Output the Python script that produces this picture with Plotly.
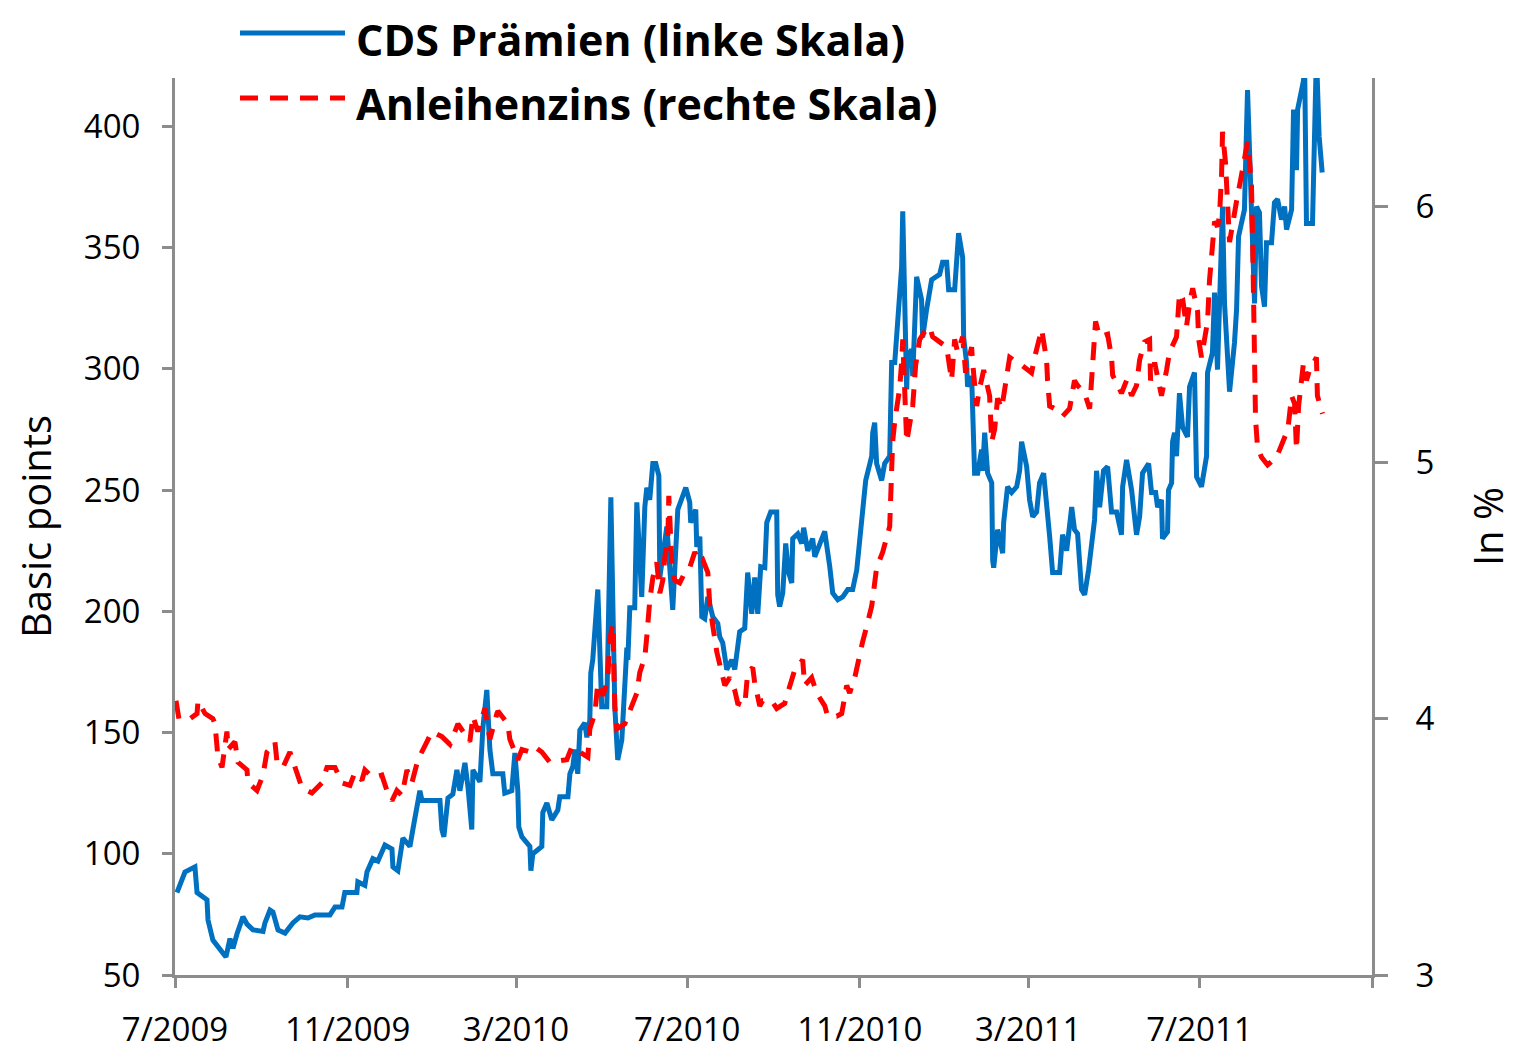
import pandas as pd
import plotly.graph_objects as go

# ---- data (days since 1 Jul 2009, value) ----
START = "2009-07-01"

cds_days = [1.4, 3.6, 7.1, 14.2, 15.7, 22.8, 23.5, 27, 32, 36.3, 39.2, 41.3, 44.2, 48.4, 51.3, 55.6,
            62.7, 64.1, 67.7, 69.8, 73.4, 78.4, 84, 89, 94.7, 99.7, 110.4, 114, 119, 121, 129.6, 130.3,
            135.3, 136.8, 141, 144.6, 149.6, 154.6, 155.3, 158.8, 162.4, 167.4, 169.5, 174.5, 176,
            188.8, 190.2, 191.6, 194.5, 198, 200.9, 203, 206.6, 208.7, 211.5, 212.3, 217.3, 219.4,
            222.2, 224.4, 226.5, 233.6, 235, 240, 242.2, 244.3, 245, 247.2, 252.9, 253.6, 255, 261.4,
            262.1, 265, 268.5, 272.8, 274.2, 280, 281.4, 283.5, 285, 287, 288.5, 292, 293.5, 295.6,
            296.3, 297.7, 301.3, 304.1, 307.7, 310.6, 313.4, 315.5, 318.4, 322, 322.7, 324.1, 327.6,
            329.1, 332.6, 334.8, 336.2, 338.3, 340.5, 342.6, 344.8, 345.5, 350.5, 354.7, 358.3, 361.1,
            364, 366.8, 367.5, 371.1, 371.8, 374, 375.4, 377.5, 379.7, 383.2, 386.8, 388.2, 390.3,
            393.2, 396.7, 398.9, 400.3, 402.4, 406, 407.4, 408.1, 411, 413.1, 415.3, 417.4, 420.3,
            421.7, 424.5, 428.8, 429.5, 430.9, 433.1, 435.2, 437.3, 439.5, 440.2, 443.8, 446.6, 448,
            450.9, 454.4, 455.9, 459.4, 463, 466.6, 468.7, 472.3, 475.8, 479.4, 482.9, 485.8, 487.9,
            490, 492.2, 496.5, 497.2, 498.6, 500, 503.6, 505.7, 509.3, 510.7, 512.9, 515, 517.8, 518.6,
            521.4, 522.1, 525, 525.7, 528.5, 532, 532.8, 535.6, 539.2, 544.9, 547, 549.9, 551.3, 555.6,
            556.3, 558.4, 561.3, 562, 564.1, 564.8, 567.7, 568.4, 569.8, 572, 574.8, 575.5, 577, 579.1,
            582, 582.7, 583.4, 586.2, 589.8, 590.5, 593.3, 596.2, 599.8, 601.9, 603.3, 606.9, 609,
            611.2, 614, 616.1, 619, 623.3, 625.4, 630.4, 632.5, 635.4, 639, 641, 643.2, 646, 648.2,
            651, 653.2, 655.3, 656.7, 658.9, 661.7, 664.6, 667.4, 671, 674.5, 675.3, 678.1, 681.7,
            685.2, 687.4, 689.5, 693.8, 695.9, 698.8, 700.2, 703, 703.7, 707.3, 708, 710.2, 710.9,
            712.3, 713.7, 715.8, 718, 721.5, 723, 726.5, 728, 731.5, 735.1, 735.8, 739.3, 740.8, 742.9,
            745.8, 746.5, 747.9, 751.5, 755, 756.5, 757.9, 762.1, 764.3, 767.1, 769.3, 770.7, 772.8,
            774.3, 776.4, 777.8, 781.4, 783.5, 785.7, 788.5, 790.7, 792.1, 795.7, 797.1, 799.2, 800,
            804.2, 804.9, 806.3, 810.6, 813.4, 815.3, 817.5]
cds_bp = [84, 87, 92.5, 94.6, 84, 81, 72.7, 64.4, 60.3, 57.4, 65, 61, 67, 74, 71, 68.6,
          68, 71.5, 76.8, 76, 68.6, 67.3, 71.5, 74, 73.5, 74.8, 74.8, 78, 78, 84, 84, 88.4,
          87, 92.5, 98, 97, 103.6, 102, 94.6, 93, 106.5, 103, 110, 126, 122,
          122, 110, 107, 123, 124.6, 134.6, 126, 137.5, 128, 110, 134.6, 129.7, 152,
          167.6, 143, 133, 133, 125, 126, 141.6, 126, 111, 107, 103, 93, 100, 103,
          117, 121, 114, 118, 123.5, 123.5, 133, 136, 143, 133, 151, 154, 148, 155,
          174.6, 180, 209, 160.6, 160.6, 247, 160.6, 138.7, 147, 185, 180, 201.5, 201.5,
          245, 206, 243, 251, 246, 261, 261, 256, 214, 235, 200.6, 242, 246,
          251, 245, 236.6, 242, 226.6, 230.8, 197.8, 197, 206, 197.8, 195, 189.5, 187,
          176, 180, 176, 184, 191.6, 193, 207.6, 216, 199, 214, 199, 218.4, 218,
          236.6, 241, 241, 206.8, 202, 207.6, 228, 216, 211.7, 230, 232, 228, 234.5,
          225, 230, 222.5, 228, 233, 218.4, 207.6, 204.8, 206, 209, 209, 217, 229.5,
          242, 254, 264, 273.7, 277.8, 261, 254, 261, 264, 302.6, 302.6, 323, 342, 365,
          291.5, 305, 308, 297, 338, 328.6, 313, 324.5, 336.8, 339, 344, 344, 332.7, 332.7,
          339.7, 356, 346, 313, 302.6, 292.7, 297, 280, 257, 257, 266.7, 258, 273.7, 257,
          253, 221, 218, 233.7, 224, 236.6, 251.4, 249, 251.4, 258, 270, 259.7, 246,
          239, 241, 253, 257, 230.8, 216, 216, 231.6, 225, 243, 233.7, 232, 209, 206.8,
          217, 229.5, 237.8, 258, 243, 258, 259.7, 241, 241, 231.6, 251.4, 262.5, 250,
          231.6, 239, 257, 261, 249, 249, 243, 246, 230, 232.8, 250, 253, 270,
          273.7, 264, 290, 276, 272, 292.7, 298.5, 255.5, 251.4, 264, 298.5, 306.7, 331.5, 299.7,
          348, 367, 327, 290.6, 310.8, 324.5, 354.6, 365.7, 415, 368.6, 327, 367, 364.5,
          334, 325.7, 352, 352, 368.6, 370, 361.6, 367, 357.5, 365.7, 407, 382, 407,
          419, 430, 360, 360, 430, 396, 381]

bond_days = [0.7, 2.8, 10.7, 15.7, 16.4, 21.4, 27, 28.5, 30.6, 33.5, 37, 37.8, 42.7, 44.9, 51.3, 52,
             58.4, 62.7, 65.5, 71.2, 72.7, 76.9, 81.9, 86.9, 90.5, 97.6, 104.7, 108.3, 114, 119, 124.7,
             128.2, 133.2, 135.3, 141, 147.4, 151, 154.6, 158.1, 161.7, 165.3, 168.8, 173.1, 179.5,
             183.1, 190.2, 195.9, 201.6, 205.1, 210.1, 212.3, 215.8, 220.8, 224.4, 229.4, 230.1, 237.2,
             238.6, 244.3, 247.2, 252.9, 256.4, 261.4, 267.1, 279.2, 282.8, 288.5, 294.2, 295.6, 299.2,
             301.3, 304.9, 308.4, 309.8, 312, 312.7, 313.4, 314.8, 320.5, 325.5, 329.1, 331.2, 334.8,
             336.2, 336.9, 338.3, 340.5, 343.3, 345.5, 347.6, 349, 351.2, 351.9, 352.6, 354, 356.2,
             359.7, 363.3, 366.8, 370.4, 374, 376.1, 379.7, 381.1, 383.2, 386.1, 389.6, 391.8, 395.3,
             398.9, 401, 406, 408.1, 411.7, 413.1, 416.7, 418.8, 425.2, 428.8, 434.5, 436.6, 441.6,
             447.3, 448.7, 453.7, 457.3, 463, 465.1, 471.5, 475.1, 478.7, 480.8, 484.4, 486.5, 490,
             492.9, 496.5, 500, 504.3, 509.3, 510.7, 511.4, 512.9, 515, 516.4, 517.8, 518.6, 521.4,
             523.5, 525.7, 527.8, 530.7, 534.2, 537.8, 539.9, 544.9, 549.9, 553.4, 555.6, 557.7, 561.3,
             563.4, 567.7, 568.4, 569.8, 571.3, 573.4, 576.3, 580.5, 582, 584.1, 586.2, 589.1, 592.6,
             594.8, 599.8, 603.3, 610.4, 612.6, 617.6, 618.3, 621.1, 621.8, 623.3, 626.8, 632.5, 637.5,
             641, 643.2, 648.2, 651.8, 653.2, 653.9, 655.3, 656, 658.9, 664.6, 667.4, 668.2, 674.5,
             678.1, 681.7, 685.2, 687.4, 690.9, 694.5, 695.2, 698.1, 701.6, 703, 706.6, 708.7, 713.7,
             714.5, 715.8, 718, 720.8, 723, 725.2, 728.7, 729.5, 731.5, 735.8, 737.2, 739.3, 740.8,
             742.9, 744.3, 745.8, 746.5, 748.6, 749.3, 750, 751.5, 753.6, 756.5, 758.6, 762.1, 764.3,
             765.7, 767.1, 767.8, 768.5, 769.3, 770, 771.4, 774.3, 778.6, 785, 793.1, 795.7, 797.8,
             799.2, 800.7, 804.2, 806.3, 808.5, 813.4, 814.1, 817.7]
bond_pct = [4.07, 4.0, 4.0, 4.02, 4.07, 4.02, 4.0, 3.98, 3.85, 3.81, 3.95, 3.88, 3.91, 3.83, 3.80, 3.75,
            3.72, 3.78, 3.87, 3.91, 3.83, 3.81, 3.87, 3.79, 3.73, 3.71, 3.75, 3.81, 3.81, 3.75, 3.74,
            3.79, 3.76, 3.80, 3.77, 3.78, 3.72, 3.68, 3.72, 3.70, 3.80, 3.75, 3.84, 3.91,
            3.95, 3.93, 3.90, 3.98, 3.95, 3.91, 4.01, 3.95, 4.04, 3.92, 4.02, 4.03, 3.98,
            3.92, 3.84, 3.88, 3.87, 3.89, 3.87, 3.83, 3.84, 3.89, 3.87, 3.85, 3.96, 4.02,
            4.14, 4.09, 4.15, 4.31, 4.37, 4.19, 4.05, 3.96, 3.98, 4.05, 4.10, 4.18, 4.24,
            4.32, 4.40, 4.46, 4.55, 4.61, 4.49, 4.54, 4.63, 4.70, 4.87, 4.78, 4.61, 4.54,
            4.53, 4.57, 4.59, 4.65, 4.61, 4.62, 4.57, 4.44, 4.37, 4.26, 4.18, 4.13, 4.16,
            4.11, 4.06, 4.05, 4.18, 4.20, 4.14, 4.05, 4.07, 4.07, 4.04, 4.06, 4.10, 4.19,
            4.23, 4.13, 4.16, 4.10, 4.05, 4.01, 4.01, 4.02, 4.13, 4.10, 4.16, 4.22, 4.30,
            4.36, 4.44, 4.59, 4.65, 4.75, 4.97, 5.08, 5.16, 5.23, 5.29, 5.39, 5.48, 5.08,
            5.16, 5.22, 5.38, 5.48, 5.51, 5.53, 5.49, 5.47, 5.45, 5.32, 5.48, 5.43, 5.49,
            5.35, 5.45, 5.39, 5.29, 5.22, 5.29, 5.36, 5.26, 5.08, 5.13, 5.25, 5.21, 5.35,
            5.41, 5.39, 5.38, 5.35, 5.41, 5.52, 5.49, 5.40, 5.32, 5.22, 5.21, 5.18, 5.21,
            5.32, 5.30, 5.27, 5.21, 5.31, 5.39, 5.49, 5.55, 5.49, 5.50, 5.41, 5.34, 5.27,
            5.32, 5.26, 5.30, 5.40, 5.47, 5.48, 5.32, 5.39, 5.31, 5.26, 5.36, 5.43, 5.49,
            5.55, 5.66, 5.64, 5.53, 5.62, 5.68, 5.59, 5.48, 5.41, 5.55, 5.71, 5.87, 5.94,
            5.92, 5.96, 6.12, 6.29, 6.17, 6.12, 6.02, 5.86, 5.94, 6.02, 6.08, 6.18, 6.25,
            6.18, 6.08, 5.91, 5.69, 5.52, 5.17, 5.06, 5.02, 4.99, 5.02, 5.13, 5.26, 5.23,
            5.05, 5.22, 5.39, 5.32, 5.36, 5.41, 5.26, 5.19]

x_tick_dates = ["2009-07-01", "2009-11-01", "2010-03-01", "2010-07-01", "2010-11-01",
                "2011-03-01", "2011-07-01", "2011-11-01"]
x_tick_labels = ["7/2009", "11/2009", "3/2010", "7/2010", "11/2010", "3/2011", "7/2011", ""]
left_ticks = [50, 100, 150, 200, 250, 300, 350, 400]
right_ticks = [3, 4, 5, 6]

series_names = ["CDS Prämien (linke Skala)", "Anleihenzins (rechte Skala)"]
left_title = "Basic points"
right_title = "In %"

# ---- figure ----
start = pd.Timestamp(START)
cds_x = start + pd.to_timedelta(cds_days, unit="D")
bond_x = start + pd.to_timedelta(bond_days, unit="D")

BLUE = "#0070C0"
RED = "#FF0000"
AXIS = "#8C8C8C"
FONT = "'Open Sans', Lato, 'DejaVu Sans', sans-serif"
DASH = "18px,12px"

fig = go.Figure()
fig.add_trace(go.Scatter(x=cds_x, y=cds_bp, mode="lines", name=series_names[0],
                         line=dict(color=BLUE, width=5), yaxis="y"))
fig.add_trace(go.Scatter(x=bond_x, y=bond_pct, mode="lines", name=series_names[1],
                         line=dict(color=RED, width=5, dash=DASH), yaxis="y2"))

axis_common = dict(showline=True, linecolor=AXIS, linewidth=3, ticks="outside",
                   tickcolor=AXIS, tickwidth=3, showgrid=False, zeroline=False,
                   automargin=False,
                   tickfont=dict(family=FONT, size=33, color="black"))

# page has an 8px body margin, so the figure is 8px smaller and shifted
fig.update_layout(
    width=1507, height=1044,
    margin=dict(l=167, r=143, t=70, b=77),
    paper_bgcolor="white", plot_bgcolor="white",
    showlegend=False,
    xaxis=dict(type="date", range=["2009-07-01", "2011-11-01"],
               tickmode="array", tickvals=x_tick_dates, ticktext=x_tick_labels,
               ticklen=10, ticklabelstandoff=13, **axis_common),
    yaxis=dict(range=[50, 420], tickmode="array", tickvals=left_ticks, ticklen=10,
               ticklabelstandoff=15,
               title=dict(text=left_title, font=dict(family=FONT, size=40, color="black"),
                          standoff=40),
               **axis_common),
    yaxis2=dict(range=[3, 6.5], tickmode="array", tickvals=right_ticks, ticklen=13,
                overlaying="y", side="right", ticklabelstandoff=21,
                title=dict(text=right_title, font=dict(family=FONT, size=40, color="black"),
                           standoff=61),
                **axis_common),
)

# ---- legend (drawn manually to match long line samples) ----
def px_x(p):
    return (p - 175) / 1197.0

def px_y(p):
    return (975 - p) / 897.0

legend_rows = [(39, 33, BLUE, "solid", series_names[0]), (103, 98, RED, DASH, series_names[1])]
for ty, ly, col, dash, label in legend_rows:
    fig.add_shape(type="line", xref="paper", yref="paper",
                  x0=px_x(240), x1=px_x(345), y0=px_y(ly), y1=px_y(ly),
                  line=dict(color=col, width=5, dash=dash))
    fig.add_annotation(xref="paper", yref="paper", x=px_x(354), y=px_y(ty),
                       xanchor="left", yanchor="middle", showarrow=False, text=label,
                       font=dict(family=FONT, size=43, color="black", weight="bold"))

fig.write_html("out.html")
